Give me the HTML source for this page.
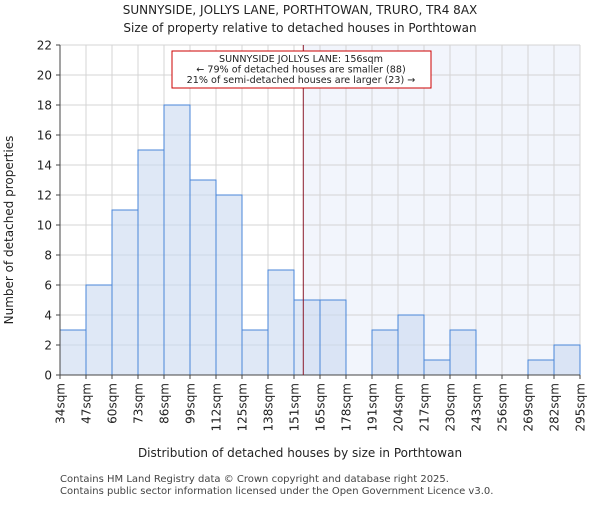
<!DOCTYPE html>
<html><head><meta charset="utf-8"><style>
body{margin:0;background:#fff;font-family:"Liberation Sans","DejaVu Sans",sans-serif;}
svg text{font-family:"DejaVu Sans","Liberation Sans",sans-serif;}
</style></head><body>
<svg id="chart" width="600" height="500" viewBox="0 0 600 500" xmlns="http://www.w3.org/2000/svg">
<text x="300" y="14" text-anchor="middle" font-size="12" fill="#222">SUNNYSIDE, JOLLYS LANE, PORTHTOWAN, TRURO, TR4 8AX</text>
<text x="300" y="32" text-anchor="middle" font-size="12" fill="#222">Size of property relative to detached houses in Porthtowan</text>
<rect x="303" y="45" width="277" height="330" fill="#f2f5fc"/>
<g id="grid"></g>
<g id="bars"></g>
<line x1="60" y1="45" x2="60" y2="375" stroke="#444"/>
<line x1="60" y1="375" x2="580" y2="375" stroke="#444"/>
<g id="yticks"></g>
<g id="xticks"></g>
<line id="marker" y1="45" y2="375" stroke="#8b1a2a" stroke-width="1"/>
<g>
<rect x="172" y="51" width="259" height="37" fill="#fff" stroke="#cc0000"/>
<text x="301" y="62" text-anchor="middle" font-size="9.6" fill="#222">SUNNYSIDE JOLLYS LANE: 156sqm</text>
<text x="301" y="72.5" text-anchor="middle" font-size="9.6" fill="#222">← 79% of detached houses are smaller (88)</text>
<text x="301" y="83" text-anchor="middle" font-size="9.6" fill="#222">21% of semi-detached houses are larger (23) →</text>
</g>
<text transform="translate(13,230) rotate(-90)" text-anchor="middle" font-size="12" fill="#222">Number of detached properties</text>
<text x="300" y="457" text-anchor="middle" font-size="12" fill="#222">Distribution of detached houses by size in Porthtowan</text>
<text x="60" y="482" font-size="10" fill="#444">Contains HM Land Registry data © Crown copyright and database right 2025.</text>
<text x="60" y="494" font-size="10" fill="#444">Contains public sector information licensed under the Open Government Licence v3.0.</text>
</svg>
<script>
const binLabels=["34sqm","47sqm","60sqm","73sqm","86sqm","99sqm","112sqm","125sqm","138sqm","151sqm","165sqm","178sqm","191sqm","204sqm","217sqm","230sqm","243sqm","256sqm","269sqm","282sqm","295sqm"];
const counts=[3,6,11,15,18,13,12,3,7,5,5,0,3,4,1,3,0,0,1,2];
const yTicks=[0,2,4,6,8,10,12,14,16,18,20,22];
const propertySize=156;
const binEdges=[34,47,60,73,86,99,112,125,138,151,165,178,191,204,217,230,243,256,269,282,295];
const NS="http://www.w3.org/2000/svg";
const x0=60,x1=580,y0=375,y1=45,ymax=22;
const bw=(x1-x0)/counts.length;
const xs=i=>x0+i*bw;
const ys=v=>y0-(v/ymax)*(y0-y1);
function mk(t,a,p){const e=document.createElementNS(NS,t);for(const k in a)e.setAttribute(k,a[k]);p.appendChild(e);return e;}
const grid=document.getElementById('grid');
yTicks.forEach(v=>{const l=mk('line',{x1:x0,x2:x1,y1:ys(v),y2:ys(v),stroke:'#d4d4d4'},grid);

});
binLabels.forEach((_,i)=>{const l=mk('line',{x1:xs(i),x2:xs(i),y1:y1,y2:y0,stroke:'#d4d4d4'},grid);

});
const bars=document.getElementById('bars');
counts.forEach((c,i)=>{if(!c)return;const r=mk('rect',{x:xs(i),y:ys(c),width:bw,height:y0-ys(c),fill:'#c9d9f0','fill-opacity':0.6,stroke:'#4a86d8','stroke-width':1},bars);

});
const yt=document.getElementById('yticks');
yTicks.forEach(v=>{mk('line',{x1:x0-4,x2:x0,y1:ys(v),y2:ys(v),stroke:'#444'},yt);
const t=mk('text',{x:x0-8,y:ys(v)+4.5,'text-anchor':'end','font-size':12,fill:'#222'},yt);t.textContent=v;

});
const xt=document.getElementById('xticks');
binLabels.forEach((s,i)=>{mk('line',{x1:xs(i),x2:xs(i),y1:y0,y2:y0+4,stroke:'#444'},xt);
const t=mk('text',{transform:`translate(${xs(i)+4.5},${y0+8}) rotate(-90)`,'text-anchor':'end','font-size':12,fill:'#222'},xt);t.textContent=s;

});
let k=0;while(k<binEdges.length-2&&propertySize>=binEdges[k+1])k++;
const mx=xs(k)+bw*(propertySize-binEdges[k])/(binEdges[k+1]-binEdges[k]);
const m=document.getElementById('marker');m.setAttribute('x1',mx);m.setAttribute('x2',mx);
</script>
</body></html>
